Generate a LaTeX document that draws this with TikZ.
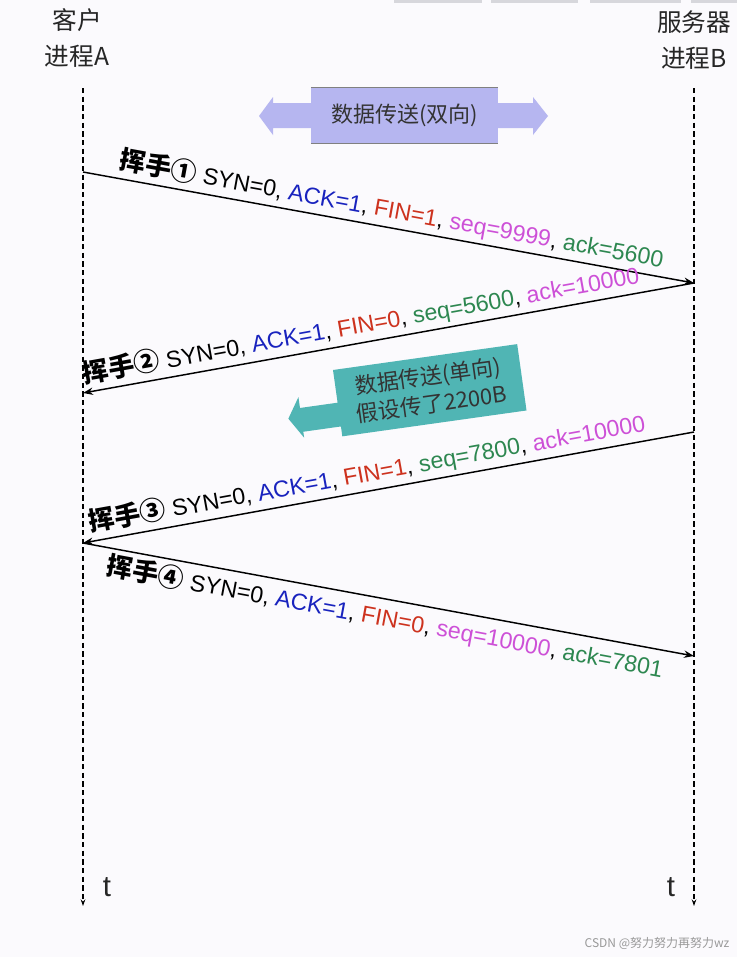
\documentclass[tikz,border=0pt]{standalone}
\usepackage{fontspec}
\setmainfont{Liberation Sans}
\newfontfamily\cjk{Noto Sans CJK SC}
\usetikzlibrary{arrows.meta}

\definecolor{bgcol}{RGB}{251,250,253}
\definecolor{tabgray}{RGB}{215,215,220}
\definecolor{lavender}{RGB}{182,182,240}
\definecolor{tealbox}{RGB}{80,181,180}
\definecolor{ackblue}{RGB}{25,35,190}
\definecolor{finred}{RGB}{205,50,30}
\definecolor{seqpink}{RGB}{205,80,215}
\definecolor{ackgreen}{RGB}{45,135,80}

\newcommand{\huishou}[1]{{\cjk\bfseries\fontsize{19.5}{19.5}\selectfont 挥手#1}}

\begin{document}
\begin{tikzpicture}[x=0.75pt, y=-0.75pt,
    life/.style={dash pattern=on 4pt off 2.5pt, line width=1pt, -{Stealth[length=5pt,width=3.5pt]}},
    msg/.style={line width=1.1pt, -{Stealth[length=7.5pt,width=5.5pt]}},
    lbl/.style={sloped, inner sep=3pt, font=\fontsize{17.4}{20}\selectfont},
    head/.style={font=\cjk\fontsize{18.5}{27.5}\selectfont, align=center, text=black!85},
    tlbl/.style={font=\fontsize{22}{22}\selectfont, text=black!85}]

    % page
    \useasboundingbox (0,0) rectangle (737,957);
    \fill[bgcol] (0,0) rectangle (737,957);
    \foreach \a/\b in {394/482, 491/578, 590/681, 691/737}
        \fill[tabgray] (\a,0) rectangle (\b,3);

    % processes
    \node[head] (procA) at (77,38) {客户\\进程A};
    \node[head] (procB) at (694,40) {服务器\\进程B};

    % lifelines
    \coordinate (Atop) at (83,88);
    \coordinate (Aend) at (83,906);
    \coordinate (Btop) at (694,88);
    \coordinate (Bend) at (694,906);
    \draw[life] (Atop) -- (Aend);
    \draw[life] (Btop) -- (Bend);
    \node[tlbl] (tA) at (107,887) {t};
    \node[tlbl] (tB) at (671,887) {t};

    % two-way transfer
    \fill[lavender] (259,116) -- (273,97) -- (273,103) -- (533,103) -- (533,97) -- (548,116)
        -- (533,135) -- (533,128) -- (273,128) -- (273,135) -- cycle;
    \node[fill=lavender, minimum width=140pt, minimum height=41pt, text=black!80,
        font=\cjk\fontsize{16.5}{20}\selectfont] (duplex) at (404.5,115.5) {数据传送(双向)};
    \draw[gray, line width=0.8pt] (duplex.north west) -- (duplex.north east);
    \draw[gray, line width=0.8pt] (duplex.south west) -- (duplex.south east);

    % message points
    \foreach \n/\ya/\yb in {1/172/283, 2/393/432, 3/543/656} {
        \coordinate (A\n) at (83,\ya);
        \coordinate (B\n) at (694,\yb);
    }

    % wave 1
    \draw[msg] (A1) -- (B1) node[lbl, above, pos=0.5] (w1) {\huishou{①} SYN=0,
        \textcolor{ackblue}{ACK=1}, \textcolor{finred}{FIN=1},
        \textcolor{seqpink}{seq=9999}, \textcolor{ackgreen}{ack=5600}};

    % wave 2
    \draw[msg] (B1) -- (A2) node[lbl, above, pos=0.54] (w2) {\huishou{②} SYN=0,
        \textcolor{ackblue}{ACK=1}, \textcolor{finred}{FIN=0},
        \textcolor{ackgreen}{seq=5600}, \textcolor{seqpink}{ack=10000}};

    % one-way transfer
    \begin{scope}[shift={(333,370)}, rotate=8]
        \fill[tealbox] (0,0) -- (186,0) -- (186,67) -- (0,67) -- (0,57) -- (-38,57) -- (-38,63)
            -- (-51,42) -- (-38,22) -- (-38,33) -- (0,33) -- cycle;
        \node[transform shape, align=center, text=black!80,
            font=\cjk\fontsize{16.5}{21}\selectfont] (simplex) at (93,33.5) {数据传送(单向)\\假设传了2200B};
    \end{scope}

    % wave 3
    \draw[msg] (B2) -- (A3) node[lbl, above, pos=0.53] (w3) {\huishou{③} SYN=0,
        \textcolor{ackblue}{ACK=1}, \textcolor{finred}{FIN=1},
        \textcolor{ackgreen}{seq=7800}, \textcolor{seqpink}{ack=10000}};

    % wave 4
    \draw[msg] (A3) -- (B3) node[lbl, below, pos=0.5] (w4) {\huishou{④} SYN=0,
        \textcolor{ackblue}{ACK=1}, \textcolor{finred}{FIN=0},
        \textcolor{seqpink}{seq=10000}, \textcolor{ackgreen}{ack=7801}};

    % watermark
    \node[anchor=east, text=gray!80, font=\cjk\fontsize{9}{10}\selectfont] (mark) at (734,943) {CSDN @努力努力再努力wz};
\end{tikzpicture}
\end{document}
